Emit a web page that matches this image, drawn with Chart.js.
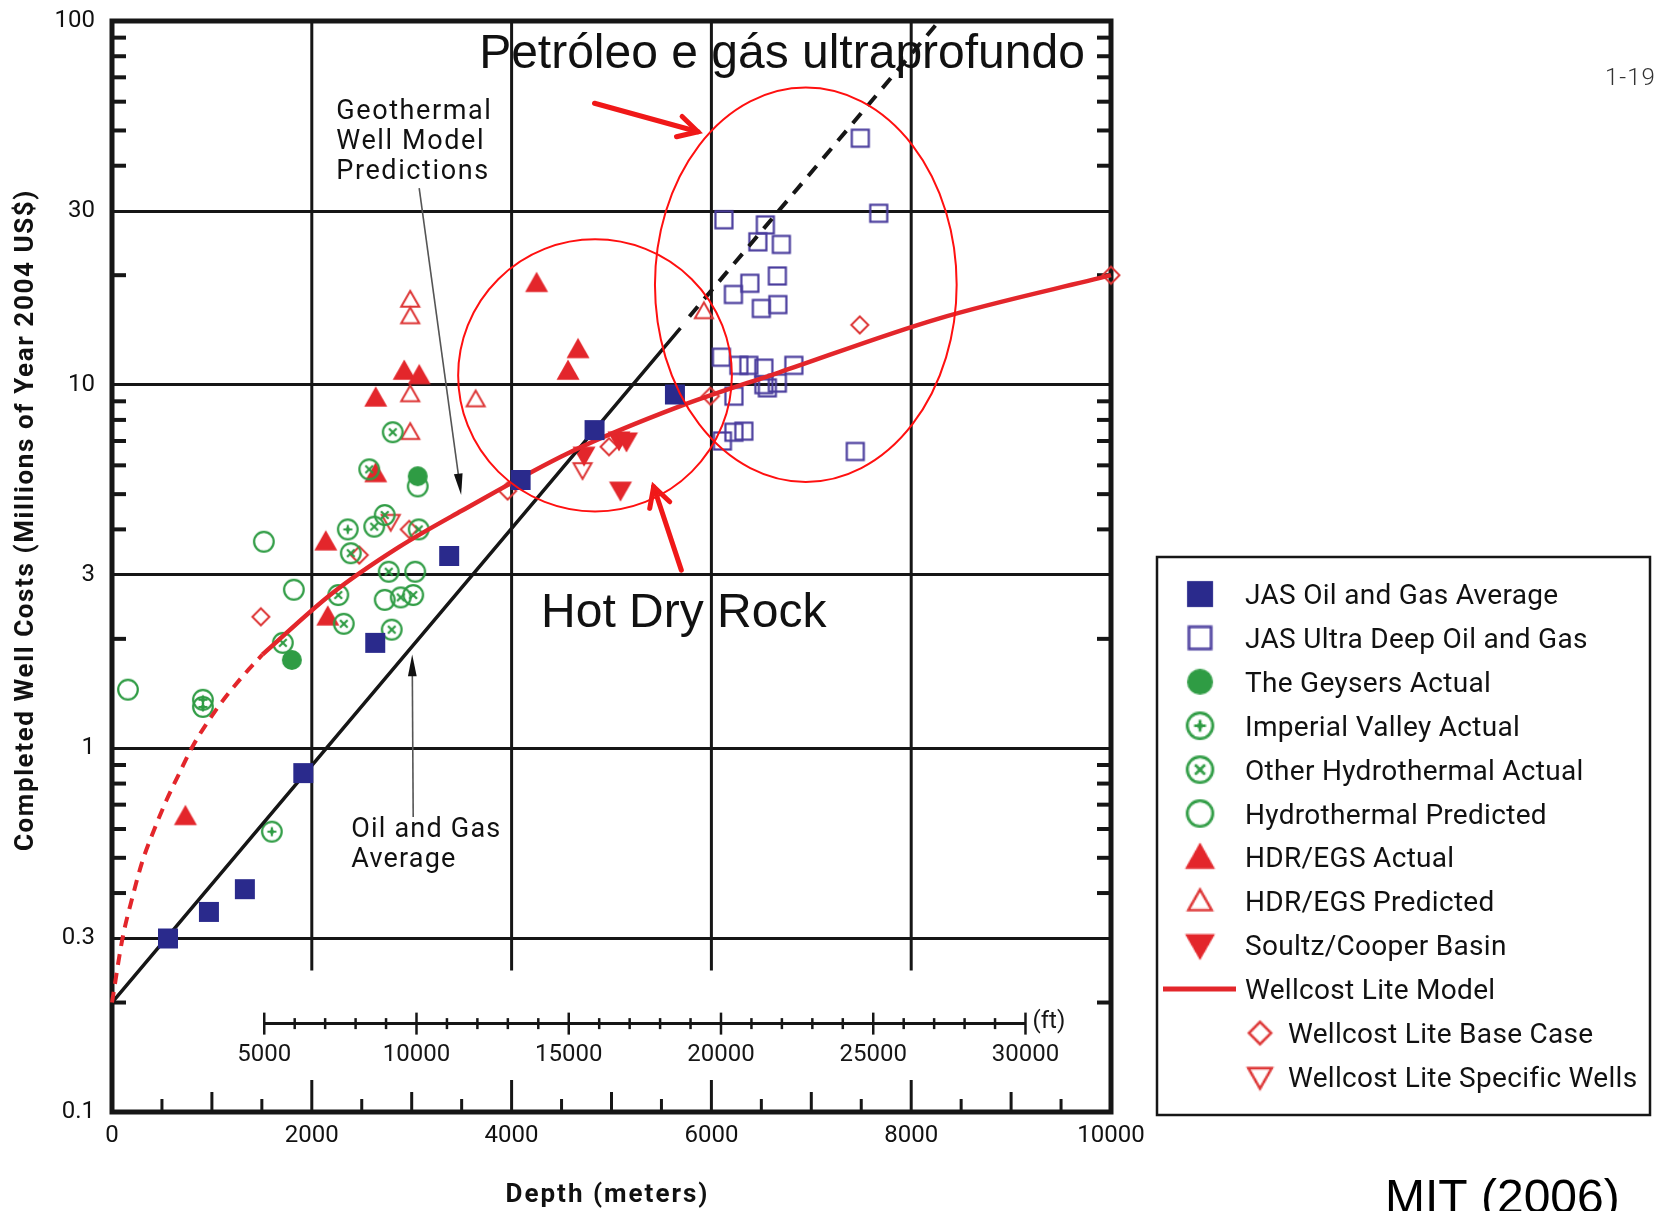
<!DOCTYPE html>
<html>
<head>
<meta charset="utf-8">
<title>Completed well costs vs depth</title>
<script src="https://cdn.jsdelivr.net/npm/chart.js@4.4.1/dist/chart.umd.min.js"></script>
<style>
  html, body { margin: 0; padding: 0; background: #fff; }
  #wrap { position: relative; width: 1654px; height: 1211px; }
</style>
</head>
<body>
<div id="wrap"><canvas id="wellCostChart" width="1654" height="1211"></canvas></div>
<script>
// ---------- axes ----------
const depthTicks = [0, 2000, 4000, 6000, 8000, 10000];
const costTicks = [0.1, 0.3, 1, 3, 10, 30, 100];
const costTickLabels = ['0.1', '0.3', '1', '3', '10', '30', '100'];
const costMinorTicks = [0.2, 0.4, 0.5, 0.6, 0.7, 0.8, 0.9, 2, 4, 5, 6, 7, 8, 9, 20, 40, 50, 60, 70, 80, 90];
const feetLabels = [5000, 10000, 15000, 20000, 25000, 30000];

// ---------- series: [depth (m), cost (M US$ 2004)] ----------
const jasOilGasAvg = [[560, 0.3], [970, 0.355], [1330, 0.41], [1915, 0.855], [2635, 1.95], [3375, 3.38], [4090, 5.47], [4830, 7.5], [5635, 9.4]];
const jasUltraDeep = [[7490, 47.6], [7675, 29.6], [6125, 28.4], [6540, 27.5], [6465, 24.7], [6700, 24.3], [6660, 19.9], [6385, 19.0],
  [6220, 17.7], [6500, 16.2], [6665, 16.6], [6100, 11.9], [6275, 11.3], [6375, 11.3], [6525, 11.1], [6825, 11.3], [6525, 10.0],
  [6660, 10.1], [6560, 9.8], [6225, 9.3], [6325, 7.45], [6225, 7.4], [6110, 7.0], [7440, 6.55]];
const geysersActual = [[3060, 5.6], [1800, 1.75]];
const imperialValley = [[1600, 0.59], [910, 1.36], [910, 1.30], [2360, 4.0]];
const otherHydro = [[2810, 7.4], [2575, 5.85], [2625, 4.07], [2730, 4.38], [3070, 4.0], [2390, 3.44], [2770, 3.06], [2265, 2.64],
  [2890, 2.6], [3015, 2.64], [2320, 2.2], [2800, 2.12], [1710, 1.95]];
const hydroPredicted = [[3060, 5.25], [1520, 3.7], [1820, 2.73], [160, 1.45], [3035, 3.06], [2730, 2.56]];
const hdrActual = [[2925, 10.9], [3075, 10.6], [2640, 9.2], [2640, 5.7], [2140, 3.7], [2160, 2.3], [735, 0.65], [4250, 19.0], [4665, 12.5], [4565, 10.9]];
const hdrPredicted = [[2985, 17.1], [2985, 15.4], [2985, 9.4], [2985, 7.4], [3640, 9.1], [5925, 15.9]];
const soultzCooper = [[4725, 6.4], [5075, 7.05], [5150, 7.0], [5090, 5.13]];
const wellcostSpecific = [[4710, 5.83], [2790, 4.2]];
const wellcostBase = [[1490, 2.3], [2475, 3.4], [2975, 4.0], [3960, 5.1], [4975, 6.75], [5990, 9.3], [7485, 14.6], [10000, 20]];

const wellcostModelShallow = [[0, 0.2], [105, 0.3], [205, 0.39], [305, 0.49], [425, 0.6], [545, 0.72], [675, 0.855], [805, 1.01], [1045, 1.28], [1275, 1.54], [1505, 1.81]];
const wellcostModel = [[1505, 1.81], [2205, 2.67], [2875, 3.58], [3500, 4.5], [4575, 6.5], [5675, 8.7], [6675, 10.8], [8275, 15.2], [10000, 20]];
const oilGasTrend = [[0, 0.2], [5690, 14.3]];
const oilGasTrendExtrapolated = [[5780, 15.4], [8280, 100]];

// ---------- annotations (anchored in data space) ----------
const gridStopCost = 0.245;     // vertical grid lines stop above the feet scale
const feetBarCost = 0.175;
const rings = [
  { x0: 3465, x1: 6205, y0: 4.48, y1: 25.1 },
  { x0: 5435, x1: 8455, y0: 5.40, y1: 65.6 }
];
const notes = [
  { lines: ['Geothermal', 'Well Model', 'Predictions'], x: 2245, y: 53.8, font: '27px Roboto', spacing: 1.6 },
  { lines: ['Oil and Gas', 'Average'], x: 2395, y: 0.571, font: '27px Roboto', spacing: 1.2 },
  { lines: ['Petróleo e gás ultraprofundo'], x: 3675, y: 74.3, font: '48px "Liberation Sans"', spacing: 0 },
  { lines: ['Hot Dry Rock'], x: 4295, y: 2.157, font: '48px "Liberation Sans"', spacing: 0 }
];
const pointerArrows = [
  { from: [3075, 34.7], to: [3495, 4.97], kind: 'thin' },
  { from: [3015, 0.647], to: [3005, 1.81], kind: 'thin' },
  { from: [4830, 59.4], to: [5865, 49.6], kind: 'bold' },
  { from: [5699, 3.09], to: [5422, 5.24], kind: 'bold' }
];

const INK = '#161616';
const BLUE = '#2a2a8c';
const VIOLET = '#4a3d9d';
const GREEN = '#2f9c44';
const RED = '#e3262b';
const RED_OPEN = '#dd3535';
const FONT = 'Roboto';

// ---------- marker glyphs ----------
function glyph(paint) {
  const c = document.createElement('canvas');
  c.width = c.height = 28;
  const g = c.getContext('2d');
  g.translate(14, 14);
  paint(g);
  return c;
}
function ring(g, r) { g.beginPath(); g.arc(0, 0, r, 0, Math.PI * 2); g.stroke(); }
function tri(g, s, down) {
  const k = down ? -1 : 1;
  g.beginPath();
  g.moveTo(0, -s * k);
  g.lineTo(s, 0.75 * s * k);
  g.lineTo(-s, 0.75 * s * k);
  g.closePath();
}

const glyphs = {
  square: glyph(g => { g.fillStyle = BLUE; g.fillRect(-10, -10, 20, 20); }),
  openSquare: glyph(g => { g.strokeStyle = VIOLET; g.lineWidth = 2.2; g.strokeRect(-8.5, -8.5, 17, 17); }),
  dot: glyph(g => { g.fillStyle = GREEN; g.beginPath(); g.arc(0, 0, 10, 0, Math.PI * 2); g.fill(); }),
  plusRing: glyph(g => {
    g.strokeStyle = GREEN; g.fillStyle = GREEN; g.lineWidth = 2.2;
    ring(g, 9.8);
    g.beginPath(); g.moveTo(-4.5, 0); g.lineTo(4.5, 0); g.moveTo(0, -4.5); g.lineTo(0, 4.5); g.stroke();
    g.beginPath(); g.arc(0, 0, 2.2, 0, Math.PI * 2); g.fill();
  }),
  crossRing: glyph(g => {
    g.strokeStyle = GREEN; g.lineWidth = 2.2;
    ring(g, 9.8);
    g.beginPath(); g.moveTo(-3.8, -3.8); g.lineTo(3.8, 3.8); g.moveTo(3.8, -3.8); g.lineTo(-3.8, 3.8); g.stroke();
  }),
  openRing: glyph(g => { g.strokeStyle = GREEN; g.lineWidth = 2.2; ring(g, 9.8); }),
  triUp: glyph(g => { g.fillStyle = RED; tri(g, 11.5, false); g.fill(); }),
  openTriUp: glyph(g => { g.strokeStyle = RED_OPEN; g.lineWidth = 2; tri(g, 9, false); g.stroke(); }),
  triDown: glyph(g => { g.fillStyle = RED; tri(g, 11.5, true); g.fill(); }),
  openTriDown: glyph(g => { g.strokeStyle = RED_OPEN; g.lineWidth = 2; tri(g, 9, true); g.stroke(); }),
  diamond: glyph(g => {
    g.strokeStyle = RED_OPEN; g.lineWidth = 2;
    g.beginPath(); g.moveTo(0, -8.5); g.lineTo(8.5, 0); g.lineTo(0, 8.5); g.lineTo(-8.5, 0); g.closePath(); g.stroke();
  })
};

const legendRows = [
  { label: 'JAS Oil and Gas Average', glyph: 'square' },
  { label: 'JAS Ultra Deep Oil and Gas', glyph: 'openSquare' },
  { label: 'The Geysers Actual', glyph: 'dot' },
  { label: 'Imperial Valley Actual', glyph: 'plusRing' },
  { label: 'Other Hydrothermal Actual', glyph: 'crossRing' },
  { label: 'Hydrothermal Predicted', glyph: 'openRing' },
  { label: 'HDR/EGS Actual', glyph: 'triUp' },
  { label: 'HDR/EGS Predicted', glyph: 'openTriUp' },
  { label: 'Soultz/Cooper Basin', glyph: 'triDown' },
  { label: 'Wellcost Lite Model', line: true },
  { label: 'Wellcost Lite Base Case', glyph: 'diamond', indent: true },
  { label: 'Wellcost Lite Specific Wells', glyph: 'openTriDown', indent: true }
];

const pts = arr => arr.map(([x, y]) => ({ x, y }));
const markers = (label, arr, g) => ({
  label, data: pts(arr), showLine: false, pointStyle: glyphs[g], pointRadius: 10, clip: false
});
const curve = (label, arr, color, width, dash) => ({
  label, type: 'line', data: pts(arr), borderColor: color, borderWidth: width, borderDash: dash || [],
  pointRadius: 0, fill: false, cubicInterpolationMode: 'monotone', clip: false
});

function seg(ctx, x1, y1, x2, y2) {
  ctx.beginPath(); ctx.moveTo(x1, y1); ctx.lineTo(x2, y2); ctx.stroke();
}

const decorations = {
  id: 'decorations',
  beforeDatasetsDraw(chart) {
    const { ctx, chartArea: a, scales: { x, y } } = chart;
    ctx.save();
    ctx.strokeStyle = INK;

    // vertical grid lines
    ctx.lineWidth = 3;
    const stop = y.getPixelForValue(gridStopCost);
    depthTicks.slice(1, -1).forEach(v => {
      const px = x.getPixelForValue(v);
      seg(ctx, px, a.top, px, stop);
    });

    // bottom tick marks every 500 m
    for (let m = 500; m < 10000; m += 500) {
      const len = m % 2000 === 0 ? 32 : (m % 1000 === 0 ? 20 : 13);
      const px = x.getPixelForValue(m);
      seg(ctx, px, a.bottom, px, a.bottom - len);
    }

    // minor log ticks on both sides
    ctx.lineWidth = 4;
    costMinorTicks.forEach(v => {
      const py = y.getPixelForValue(v);
      seg(ctx, a.left, py, a.left + 14, py);
      seg(ctx, a.right, py, a.right - 14, py);
    });

    // feet scale
    const fy = y.getPixelForValue(feetBarCost);
    const fx = ft => x.getPixelForValue(ft * 0.3048);
    ctx.lineWidth = 3;
    seg(ctx, fx(5000), fy, fx(30000), fy);
    ctx.lineWidth = 2.5;
    for (let ft = 5000; ft <= 30000; ft += 1000) {
      const h = ft % 5000 === 0 ? 11 : 5.5;
      seg(ctx, fx(ft), fy - h, fx(ft), fy + h);
    }
    ctx.fillStyle = INK;
    ctx.font = '24px ' + FONT;
    ctx.textAlign = 'center';
    ctx.textBaseline = 'middle';
    feetLabels.forEach(ft => ctx.fillText(String(ft), fx(ft), fy + 31));
    ctx.textAlign = 'left';
    ctx.fillText('(ft)', fx(30000) + 7, fy - 2);

    // frame
    ctx.lineWidth = 5;
    ctx.strokeRect(a.left, a.top, a.right - a.left, a.bottom - a.top);
    ctx.restore();
  },

  afterDatasetsDraw(chart) {
    const { ctx, scales: { x, y } } = chart;
    ctx.save();

    // red rings
    ctx.strokeStyle = '#ff1010';
    ctx.lineWidth = 2;
    rings.forEach(r => {
      const l = x.getPixelForValue(r.x0), rt = x.getPixelForValue(r.x1);
      const b = y.getPixelForValue(r.y0), t = y.getPixelForValue(r.y1);
      ctx.beginPath();
      ctx.ellipse((l + rt) / 2, (t + b) / 2, (rt - l) / 2, (b - t) / 2, 0, 0, Math.PI * 2);
      ctx.stroke();
    });

    // pointer arrows
    pointerArrows.forEach(p => {
      const x1 = x.getPixelForValue(p.from[0]), y1 = y.getPixelForValue(p.from[1]);
      const x2 = x.getPixelForValue(p.to[0]), y2 = y.getPixelForValue(p.to[1]);
      const ang = Math.atan2(y2 - y1, x2 - x1);
      if (p.kind === 'thin') {
        ctx.strokeStyle = '#555';
        ctx.lineWidth = 1.6;
        seg(ctx, x1, y1, x2 - Math.cos(ang) * 12, y2 - Math.sin(ang) * 12);
        ctx.fillStyle = '#111';
        ctx.beginPath();
        ctx.moveTo(x2, y2);
        ctx.lineTo(x2 - Math.cos(ang - 0.2) * 22, y2 - Math.sin(ang - 0.2) * 22);
        ctx.lineTo(x2 - Math.cos(ang + 0.2) * 22, y2 - Math.sin(ang + 0.2) * 22);
        ctx.closePath();
        ctx.fill();
      } else {
        ctx.strokeStyle = '#f01818';
        ctx.lineWidth = 5;
        ctx.lineCap = 'round';
        seg(ctx, x1, y1, x2, y2);
        ctx.beginPath();
        ctx.moveTo(x2 - Math.cos(ang - 0.5) * 22, y2 - Math.sin(ang - 0.5) * 22);
        ctx.lineTo(x2, y2);
        ctx.lineTo(x2 - Math.cos(ang + 0.5) * 22, y2 - Math.sin(ang + 0.5) * 22);
        ctx.stroke();
        ctx.lineCap = 'butt';
      }
    });

    // text notes
    ctx.fillStyle = '#111';
    ctx.textAlign = 'left';
    ctx.textBaseline = 'alphabetic';
    notes.forEach(n => {
      ctx.font = n.font;
      ctx.letterSpacing = n.spacing + 'px';
      const px = x.getPixelForValue(n.x), py = y.getPixelForValue(n.y);
      n.lines.forEach((s, i) => ctx.fillText(s, px, py + i * 30));
    });
    ctx.restore();
  },

  afterDraw(chart) {
    const { ctx, chartArea: a } = chart;
    ctx.save();
    ctx.fillStyle = '#111';

    // axis titles
    ctx.font = 'bold 26px ' + FONT;
    ctx.textAlign = 'center';
    ctx.textBaseline = 'middle';
    ctx.letterSpacing = '2px';
    ctx.fillText('Depth (meters)', (a.left + a.right) / 2 - 4, 1195);
    ctx.letterSpacing = '1.6px';
    ctx.save();
    ctx.translate(26, 520);
    ctx.rotate(-Math.PI / 2);
    ctx.fillText('Completed Well Costs (Millions of Year 2004 US$)', 0, 0);
    ctx.restore();

    // legend box
    ctx.strokeStyle = INK;
    ctx.lineWidth = 2.5;
    ctx.strokeRect(1157, 557, 493, 558);
    ctx.font = '28px ' + FONT;
    ctx.letterSpacing = '0.3px';
    ctx.textAlign = 'left';
    ctx.textBaseline = 'alphabetic';
    legendRows.forEach((row, i) => {
      const cy = 594 + i * 43.9;
      const gx = row.indent ? 1260 : 1200;
      const tx = row.indent ? 1288 : 1245;
      if (row.line) {
        ctx.strokeStyle = RED;
        ctx.lineWidth = 5;
        seg(ctx, 1163, cy, 1236, cy);
      } else {
        const img = glyphs[row.glyph];
        const w = img.width * 1.3, h = img.height * 1.3;
        ctx.drawImage(img, gx - w / 2, cy - h / 2, w, h);
      }
      ctx.fillText(row.label, tx, cy + 10);
    });

    // page marks
    ctx.letterSpacing = '1px';
    ctx.font = '300 24px ' + FONT;
    ctx.fillStyle = '#333';
    ctx.fillText('1-19', 1605, 85);
    ctx.letterSpacing = '0px';
    ctx.font = '48px "Liberation Sans"';
    ctx.fillStyle = '#000';
    ctx.fillText('MIT (2006)', 1385, 1213);
    ctx.restore();
  }
};

new Chart(document.getElementById('wellCostChart'), {
  type: 'scatter',
  data: {
    datasets: [
      markers('JAS Oil and Gas Average', jasOilGasAvg, 'square'),
      curve('Wellcost Lite Model', wellcostModel, RED, 4.5),
      curve('Wellcost Lite Model (shallow)', wellcostModelShallow, RED, 4, [11, 8]),
      curve('Oil and Gas Average', oilGasTrend, INK, 3.5),
      curve('Oil and Gas Average (extrapolated)', oilGasTrendExtrapolated, INK, 4, [13, 10]),
      markers('JAS Ultra Deep Oil and Gas', jasUltraDeep, 'openSquare'),
      markers('The Geysers Actual', geysersActual, 'dot'),
      markers('Imperial Valley Actual', imperialValley, 'plusRing'),
      markers('Other Hydrothermal Actual', otherHydro, 'crossRing'),
      markers('Hydrothermal Predicted', hydroPredicted, 'openRing'),
      markers('HDR/EGS Actual', hdrActual, 'triUp'),
      markers('HDR/EGS Predicted', hdrPredicted, 'openTriUp'),
      markers('Soultz/Cooper Basin', soultzCooper, 'triDown'),
      markers('Wellcost Lite Specific Wells', wellcostSpecific, 'openTriDown'),
      markers('Wellcost Lite Base Case', wellcostBase, 'diamond')
    ]
  },
  options: {
    responsive: false,
    animation: false,
    devicePixelRatio: 1,
    layout: { padding: { top: 21, right: 543, bottom: 0, left: 0 } },
    plugins: { legend: { display: false }, tooltip: { enabled: false } },
    scales: {
      x: {
        type: 'linear',
        min: 0,
        max: 10000,
        afterBuildTicks: s => { s.ticks = depthTicks.map(v => ({ value: v })); },
        afterFit: s => { s.height = 99; s.paddingLeft = 0; s.paddingRight = 0; },
        grid: { display: false, drawTicks: false },
        border: { display: false },
        ticks: { padding: 10, color: '#111', font: { family: FONT, size: 24 }, callback: v => String(v) }
      },
      y: {
        type: 'logarithmic',
        min: 0.1,
        max: 100,
        afterBuildTicks: s => { s.ticks = costTicks.map(v => ({ value: v })); },
        afterFit: s => { s.width = 112; s.paddingTop = 0; s.paddingBottom = 0; },
        grid: { color: INK, lineWidth: 3, drawTicks: false },
        border: { display: false },
        ticks: { padding: 17, color: '#111', font: { family: FONT, size: 24 }, callback: (v, i) => costTickLabels[i] }
      }
    }
  },
  plugins: [decorations]
});
</script>
</body>
</html>
